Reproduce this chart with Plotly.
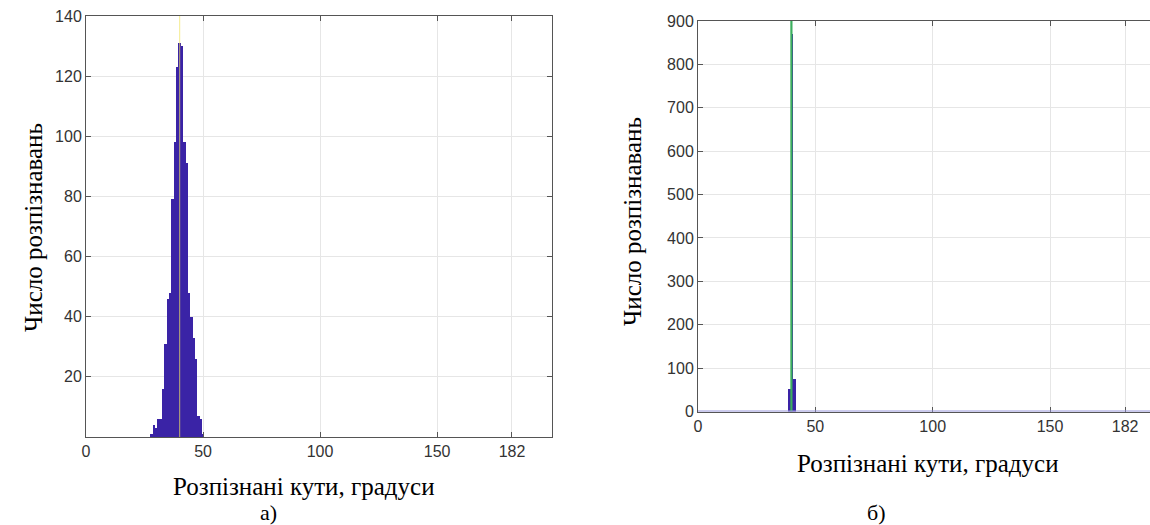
import plotly.graph_objects as go

W, H = 1150, 525

# Left histogram (a): recognized angles, degrees -> counts
angles_a = [28, 29, 30, 31, 32, 33, 34, 35, 36, 37, 38, 39, 40, 41, 42, 43, 44, 45, 46, 47, 48, 49, 50]
counts_a = [1, 4, 3, 6, 6, 16, 31, 46, 48, 79, 98, 123, 131, 130, 98, 91, 48, 40, 33, 26, 7, 6, 1]
true_angle_a = 40

# Right histogram (b)
angles_b = [39, 40, 41]
counts_b = [53, 870, 74]
true_angle_b = 39.8

x_ticks = [0, 50, 100, 150, 182]
y_ticks_a = [20, 40, 60, 80, 100, 120, 140]
y_ticks_b = [0, 100, 200, 300, 400, 500, 600, 700, 800, 900]

x_title = "Розпізнані кути, градуси"
y_title = "Число розпізнавань"
label_a = "а)"
label_b = "б)"

BAR = "#3a23a6"
AX = "#555555"
GRID = "#e6e6e6"
TICKFONT = dict(family="Liberation Sans, Arial", size=16, color="#333333")
SERIF = "Liberation Serif, Times New Roman"

def px(x):
    return x / W

def py(y):
    return 1 - y / H

fig = go.Figure()

fig.add_trace(go.Bar(x=angles_a, y=counts_a, width=1.15, marker=dict(color=BAR, line=dict(width=0)),
                     xaxis="x", yaxis="y", showlegend=False, hoverinfo="x+y"))
fig.add_trace(go.Scatter(x=[true_angle_a, true_angle_a], y=[0, 140], mode="lines",
                         line=dict(color="rgba(240,228,100,0.6)", width=1.2),
                         xaxis="x", yaxis="y", showlegend=False, hoverinfo="skip"))

fig.add_trace(go.Bar(x=angles_b, y=counts_b, width=1.1, marker=dict(color=BAR, line=dict(width=0)),
                     xaxis="x2", yaxis="y2", showlegend=False, hoverinfo="x+y"))
fig.add_trace(go.Scatter(x=[true_angle_b, true_angle_b], y=[0, 900], mode="lines",
                         line=dict(color="rgb(60,175,95)", width=2.2),
                         xaxis="x2", yaxis="y2", showlegend=False, hoverinfo="skip"))

common_x = dict(tickmode="array", tickvals=x_ticks, ticks="inside", ticklen=5, tickcolor=AX,
                showline=True, linecolor=AX, linewidth=1, showgrid=True, gridcolor=GRID, gridwidth=1,
                zeroline=False, tickfont=TICKFONT, fixedrange=True, automargin=False)
common_y = dict(ticks="inside", ticklen=5, tickcolor=AX, showline=True, linecolor=AX, linewidth=1,
                showgrid=True, gridcolor=GRID, gridwidth=1, zeroline=False, tickfont=TICKFONT,
                fixedrange=True, automargin=False)

fig.update_layout(
    width=W, height=H, margin=dict(l=0, r=0, t=0, b=0, autoexpand=False),
    paper_bgcolor="white", plot_bgcolor="white", bargap=0, barmode="overlay",
    xaxis=dict(domain=[px(86), px(552)], range=[0, 199.1], anchor="y", mirror="ticks", **common_x),
    yaxis=dict(domain=[py(437), py(16)], range=[0, 140], anchor="x", mirror="ticks",
               tickmode="array", tickvals=y_ticks_a, **common_y),
    xaxis2=dict(domain=[px(698), 1.0], range=[0, 192.6], anchor="y2", mirror="ticks", **common_x),
    yaxis2=dict(domain=[py(411.5), py(21)], range=[0, 900], anchor="x2", mirror=False,
                tickmode="array", tickvals=y_ticks_b, **common_y),
    shapes=[dict(type="line", xref="x2 domain", yref="y2", x0=0, x1=1, y0=0, y1=0,
                 line=dict(color="#9a98dc", width=2))],
    annotations=[
        dict(text=y_title, x=px(33), y=py(228), xref="paper", yref="paper", textangle=-90,
             showarrow=False, font=dict(family=SERIF, size=25, color="black"), xanchor="center", yanchor="middle"),
        dict(text=y_title, x=px(633), y=py(222), xref="paper", yref="paper", textangle=-90,
             showarrow=False, font=dict(family=SERIF, size=25, color="black"), xanchor="center", yanchor="middle"),
        dict(text=x_title, x=px(304), y=py(486), xref="paper", yref="paper",
             showarrow=False, font=dict(family=SERIF, size=25, color="black"), xanchor="center", yanchor="middle"),
        dict(text=x_title, x=px(928), y=py(463), xref="paper", yref="paper",
             showarrow=False, font=dict(family=SERIF, size=25, color="black"), xanchor="center", yanchor="middle"),
        dict(text=label_a, x=px(268), y=py(512), xref="paper", yref="paper",
             showarrow=False, font=dict(family=SERIF, size=22, color="black"), xanchor="center", yanchor="middle"),
        dict(text=label_b, x=px(876), y=py(512), xref="paper", yref="paper",
             showarrow=False, font=dict(family=SERIF, size=22, color="black"), xanchor="center", yanchor="middle"),
    ],
)

fig.write_html("out.html")
